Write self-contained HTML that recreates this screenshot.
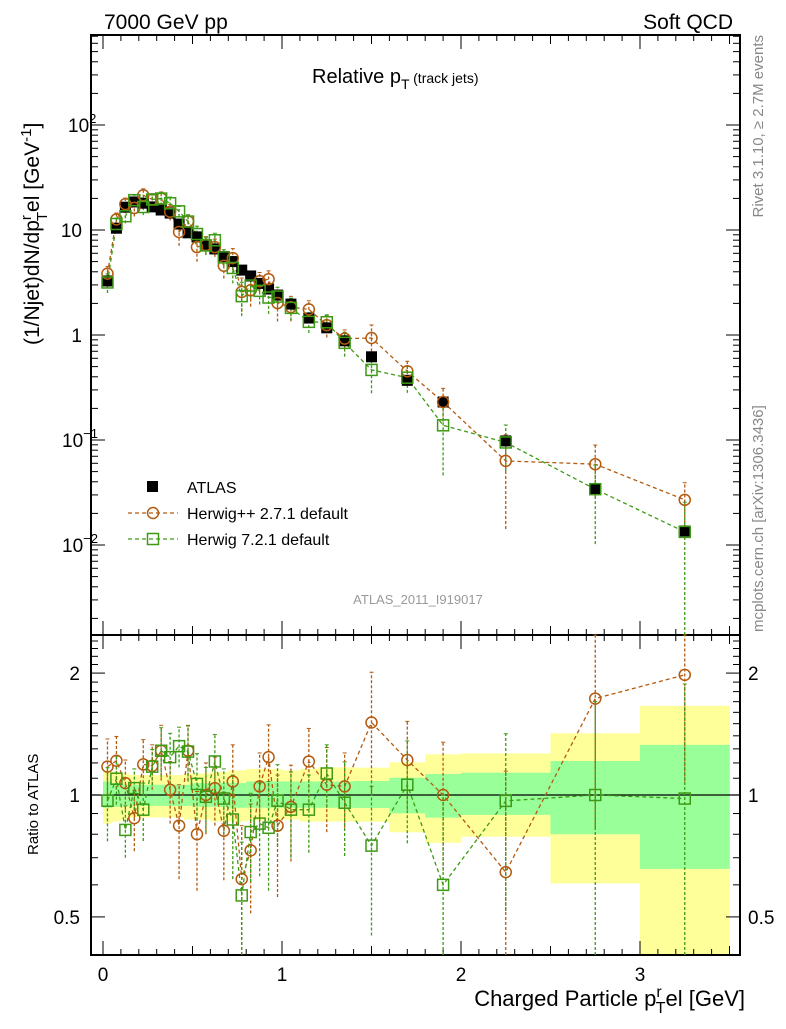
<!DOCTYPE html>
<html><head><meta charset="utf-8">
<style>
html,body{margin:0;padding:0;background:#fff;}
svg text{font-family:"Liberation Sans",sans-serif;}
</style></head>
<body>
<svg id="chart" width="786" height="1024" viewBox="0 0 786 1024" xmlns="http://www.w3.org/2000/svg">
<g id="bands"></g>
<g id="grid"></g>
<g id="series"></g>
<text x="104" y="29" font-size="21">7000 GeV pp</text>
<text x="733" y="29" font-size="21" text-anchor="end">Soft QCD</text>
<text x="312" y="83" font-size="20">Relative p<tspan font-size="14" dy="6">T</tspan><tspan font-size="14" dy="-6"> (track jets)</tspan></text>
<text transform="translate(763,35) rotate(-90)" font-size="15" fill="#888" text-anchor="end">Rivet 3.1.10, ≥ 2.7M events</text>
<text transform="translate(763,632) rotate(-90)" font-size="15" fill="#888">mcplots.cern.ch [arXiv:1306.3436]</text>
<text x="418" y="604" font-size="13" fill="#999" text-anchor="middle">ATLAS_2011_I919017</text>
<text transform="translate(39,345) rotate(-90)" font-size="21">(1/Njet)dN/dp<tspan font-size="15" dy="-8">r</tspan><tspan font-size="15" dx="-6" dy="16">T</tspan><tspan dy="-8">el [GeV</tspan><tspan font-size="15" dy="-8">-1</tspan><tspan dy="8">]</tspan></text>
<text transform="translate(38,855) rotate(-90)" font-size="15">Ratio to ATLAS</text>
<text x="745" y="1006" font-size="22" text-anchor="end">Charged Particle p<tspan font-size="16" dy="-9">r</tspan><tspan font-size="16" dx="-6" dy="16">T</tspan><tspan dy="-7">el [GeV]</tspan></text>
<g id="legend">
 <rect x="147" y="481" width="11" height="11" fill="#000"/>
 <text x="187" y="493" font-size="16">ATLAS</text>
 <line x1="128" y1="513" x2="178" y2="513" stroke="#b35a0f" stroke-width="1.3" stroke-dasharray="4,3"/>
 <circle cx="153" cy="513" r="5.5" fill="none" stroke="#b35a0f" stroke-width="1.5"/>
 <text x="187" y="519" font-size="16">Herwig++ 2.7.1 default</text>
 <line x1="128" y1="539" x2="178" y2="539" stroke="#3c9a14" stroke-width="1.3" stroke-dasharray="4,3"/>
 <rect x="147.5" y="533.5" width="11" height="11" fill="none" stroke="#3c9a14" stroke-width="1.5"/>
 <text x="187" y="545" font-size="16">Herwig 7.2.1 default</text>
</g>
</svg>
<script>
const xCenters=[0.025,0.075,0.125,0.175,0.225,0.275,0.325,0.375,0.425,0.475,0.525,0.575,0.625,0.675,0.725,0.775,0.825,0.875,0.925,0.975,1.05,1.15,1.25,1.35,1.5,1.7,1.9,2.25,2.75,3.25];
const atlasValues=[3.27,10.4,16.5,18.5,18,16.6,15.5,14.5,11.4,9.4,8.6,7.2,6.6,5.6,5.0,4.15,3.65,3.1,2.74,2.4,1.97,1.45,1.17,0.88,0.62,0.37,0.23,0.098,0.034,0.0136];
const herwigppRatio=[1.175,1.215,1.07,0.877,1.19,1.18,1.286,1.03,0.84,1.286,0.80,1.0,1.04,0.816,1.08,0.62,0.73,1.05,1.24,0.84,0.935,1.21,1.06,1.05,1.51,1.22,1.0,0.645,1.73,1.98];
const herwig7Ratio=[0.968,1.097,0.82,1.04,0.92,1.175,1.286,1.24,1.32,1.28,1.065,0.99,1.21,0.98,0.87,0.565,0.81,0.85,0.83,0.968,0.92,0.92,1.13,0.957,0.75,1.06,0.6,0.967,1.0,0.98];
const herwigppErr=[0.2,0.18,0.15,0.15,0.18,0.15,0.2,0.18,0.22,0.2,0.22,0.2,0.2,0.2,0.25,0.22,0.22,0.22,0.25,0.28,0.25,0.25,0.25,0.22,0.5,0.3,0.35,0.5,0.9,0.9];
const herwig7Err=[0.2,0.15,0.12,0.12,0.15,0.12,0.18,0.18,0.15,0.2,0.2,0.18,0.2,0.18,0.25,0.2,0.2,0.22,0.25,0.22,0.22,0.2,0.2,0.25,0.3,0.3,0.4,0.45,0.7,0.9];
const binEdges=[0,0.05,0.1,0.15,0.2,0.25,0.3,0.35,0.4,0.45,0.5,0.55,0.6,0.65,0.7,0.75,0.8,0.85,0.9,0.95,1.0,1.1,1.2,1.3,1.4,1.6,1.8,2.0,2.5,3.0,3.5];
const yellowHi=[1.15,1.14,1.13,1.12,1.12,1.12,1.12,1.12,1.12,1.13,1.13,1.13,1.14,1.14,1.15,1.15,1.16,1.16,1.16,1.16,1.15,1.16,1.17,1.17,1.168,1.204,1.26,1.267,1.42,1.66];
const yellowLo=[0.85,0.86,0.87,0.88,0.88,0.88,0.88,0.88,0.88,0.87,0.87,0.87,0.86,0.86,0.86,0.86,0.865,0.865,0.865,0.865,0.87,0.86,0.86,0.86,0.859,0.809,0.762,0.789,0.605,0.35];
const greenHi=[1.08,1.07,1.06,1.06,1.06,1.06,1.06,1.06,1.06,1.06,1.07,1.07,1.07,1.07,1.07,1.07,1.08,1.08,1.08,1.08,1.08,1.08,1.08,1.08,1.083,1.103,1.127,1.135,1.213,1.33];
const greenLo=[0.93,0.935,0.94,0.94,0.94,0.94,0.94,0.94,0.94,0.94,0.935,0.935,0.935,0.935,0.93,0.93,0.93,0.93,0.93,0.93,0.93,0.93,0.93,0.93,0.929,0.901,0.879,0.893,0.80,0.657];
const xTicks=[0,1,2,3];
const mainTicks=[{v:100,t:'10',e:'2'},{v:10,t:'10',e:''},{v:1,t:'1',e:''},{v:0.1,t:'10',e:'−1'},{v:0.01,t:'10',e:'−2'}];
const ratioTicks=[2,1,0.5];

const NS='http://www.w3.org/2000/svg';
const L=91,R=740,T=35,MID=635,B=955;
const xs=v=>103+v*179;
const ym=v=>335-105*Math.log10(v);
const yr=v=>Math.min(B,Math.max(MID,795-405*Math.log10(v)));
function el(tag,attrs,parent){const e=document.createElementNS(NS,tag);for(const k in attrs)e.setAttribute(k,attrs[k]);parent.appendChild(e);return e;}
const bands=document.getElementById('bands'),grid=document.getElementById('grid'),series=document.getElementById('series');

for(let i=0;i<xCenters.length;i++){
  const x0=xs(binEdges[i]),x1=xs(binEdges[i+1]);
  const y=el('rect',{x:x0,y:yr(yellowHi[i]),width:x1-x0+0.3,height:yr(yellowLo[i])-yr(yellowHi[i]),fill:'#ffff99'},bands);
  
  
  const g=el('rect',{x:x0,y:yr(greenHi[i]),width:x1-x0+0.3,height:yr(greenLo[i])-yr(greenHi[i]),fill:'#99ff99'},bands);
  
  
}

// frames
el('rect',{x:L,y:T,width:R-L,height:MID-T,fill:'none',stroke:'#000','stroke-width':2},grid);
el('rect',{x:L,y:MID,width:R-L,height:B-MID,fill:'none',stroke:'#000','stroke-width':2},grid);
el('line',{x1:L,y1:795,x2:R,y2:795,stroke:'#000','stroke-width':1.3},grid);
// x ticks
for(let k=0;k<=35;k++){
  const v=k/10,x=xs(v),len=(k%10===0)?14:(k%5===0?9:6);
  [T,MID].forEach(t=>el('line',{x1:x,y1:t,x2:x,y2:t+len,stroke:'#000','stroke-width':1},grid));
  [MID,B].forEach(b=>el('line',{x1:x,y1:b,x2:x,y2:b-len,stroke:'#000','stroke-width':1},grid));
}
xTicks.forEach(v=>{const t=el('text',{x:xs(v),y:981,'font-size':19,'text-anchor':'middle'},grid);t.textContent=v;
 
 });
// main y ticks
for(let d=-3;d<=2;d++){for(let m=1;m<=9;m++){const v=m*Math.pow(10,d),y=ym(v);if(y<T||y>MID)continue;const len=m===1?14:7;
 el('line',{x1:L,y1:y,x2:L+len,y2:y,stroke:'#000'},grid);el('line',{x1:R,y1:y,x2:R-len,y2:y,stroke:'#000'},grid);}}
mainTicks.forEach(o=>{const t=el('text',{x:o.e?72:82,y:ym(o.v)+7,'font-size':19,'text-anchor':'end'},grid);t.textContent=o.t;
 if(o.e){const s=el('tspan',{'font-size':13,dy:-9},t);s.textContent=o.e;t.setAttribute('x',o.e.length>1?62:68);t.setAttribute('text-anchor','start');}
 
 });
// ratio y ticks
for(let v=0.4;v<=2.45;v+=0.1){const y=yr(v);const maj=Math.abs(v-1)<0.01||Math.abs(v-2)<0.01||Math.abs(v-0.5)<0.01;const len=maj?14:7;
 el('line',{x1:L,y1:y,x2:L+len,y2:y,stroke:'#000'},grid);el('line',{x1:R,y1:y,x2:R-len,y2:y,stroke:'#000'},grid);}
ratioTicks.forEach(v=>{[[80,'end'],[748,'start']].forEach(([x,a])=>{const t=el('text',{x:x,y:yr(v)+7,'font-size':19,'text-anchor':a},grid);t.textContent=v;
 
 });});

function drawModel(ratio,err,color,shape,name){
  const mainPts=[],ratPts=[];
  for(let i=0;i<xCenters.length;i++){
    const x=xs(xCenters[i]);const val=atlasValues[i]*ratio[i];
    const lo=Math.max(atlasValues[i]*(ratio[i]-err[i]),1e-4),hi=atlasValues[i]*(ratio[i]+err[i]);
    mainPts.push([x,ym(val)]);ratPts.push([x,yr(ratio[i])]);
    [[ym(val),ym(lo),ym(hi)],[yr(ratio[i]),yr(Math.max(ratio[i]-err[i],0.01)),yr(ratio[i]+err[i])]].forEach(([yc,yl,yh])=>{
      const eb=el('line',{x1:x,y1:Math.min(yl,yc>MID?B:MID),x2:x,y2:yh,stroke:color,'stroke-width':1.3,'stroke-dasharray':'3,2'},series);
      
      
      el('line',{x1:x-2,y1:yh,x2:x+2,y2:yh,stroke:color},series);
    });
  }
  [mainPts,ratPts].forEach(p=>{const pl=el('polyline',{points:p.map(q=>q.join(',')).join(' '),fill:'none',stroke:color,'stroke-width':1.3,'stroke-dasharray':'4,3'},series);
    
    });
  return [mainPts,ratPts];
}
function markers(pts,color,shape,name){pts.forEach(([x,y])=>{let m;
  if(shape==='c')m=el('circle',{cx:x,cy:y,r:5.5,fill:'none',stroke:color,'stroke-width':1.5},series);
  else m=el('rect',{x:x-5.5,y:y-5.5,width:11,height:11,fill:'none',stroke:color,'stroke-width':1.5},series);
  
  });}
const hpp=drawModel(herwigppRatio,herwigppErr,'#b35a0f','c','herwigpp');
const h7=drawModel(herwig7Ratio,herwig7Err,'#3c9a14','s','herwig7');
// atlas
for(let i=0;i<xCenters.length;i++){const a=el('rect',{x:xs(xCenters[i])-5.5,y:ym(atlasValues[i])-5.5,width:11,height:11,fill:'#000'},series);
 
 }
markers(hpp[0],'#b35a0f','c','herwigpp');markers(hpp[1],'#b35a0f','c','herwigpp-ratio');
markers(h7[0],'#3c9a14','s','herwig7');markers(h7[1],'#3c9a14','s','herwig7-ratio');
</script>
</body></html>
